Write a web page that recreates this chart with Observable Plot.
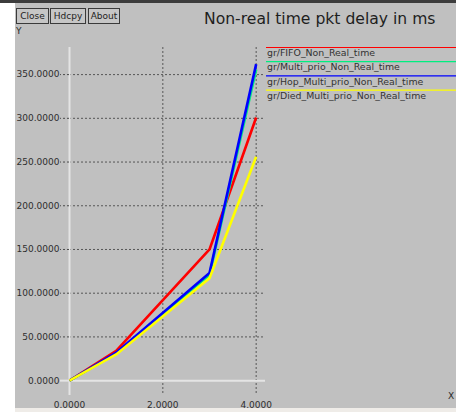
<!DOCTYPE html>
<html>
<head>
<meta charset="utf-8">
<script src="https://cdn.jsdelivr.net/npm/d3@7"></script>
<script src="https://cdn.jsdelivr.net/npm/@observablehq/plot@0.6"></script>
<style>
  body { margin: 0; background: #fff; font-family: "DejaVu Sans", sans-serif; }
  #win { position: relative; width: 456px; height: 412px; overflow: hidden; background: #fff; }
  #topbar { position: absolute; left: 0; top: 0; width: 456px; height: 3px; background: #3c3c3c; }
  #panel { position: absolute; left: 15px; top: 3px; width: 441px; height: 405px; background: #c0c0c0; }
  #bottom { position: absolute; left: 15px; top: 408px; width: 441px; height: 4px; background: #efece8; }
  .btn { position: absolute; top: 8px; height: 14px; border: 1px solid #3a3a3a; background: #c6c6c6;
         font-size: 9px; line-height: 14px; text-align: center; color: #222; box-sizing: content-box; }
  #title { position: absolute; left: 204px; top: 10px; font-size: 15.6px; color: #1e1e1e; white-space: nowrap; }
  .lbl { position: absolute; font-size: 9px; color: #2a2a2a; }
  #chart { position: absolute; left: 0; top: 0; }
  #legend { position: absolute; left: 266px; top: 40px; }
</style>
</head>
<body>
<div id="win">
  <div id="topbar"></div>
  <div id="panel"></div>
  <div id="bottom"></div>
  <div class="btn" style="left:16px;width:31px;">Close</div>
  <div class="btn" style="left:50px;width:34px;">Hdcpy</div>
  <div class="btn" style="left:88px;width:30px;">About</div>
  <div id="title">Non-real time pkt delay in ms</div>
  <div class="lbl" style="left:16px;top:26px;">Y</div>
  <div class="lbl" style="left:448px;top:391px;">X</div>
  <div id="chart"></div>
  <div id="legend"></div>
</div>
<script>
// Packet delay (ms) per load step for the four schedulers
const xs = [0, 1, 3, 4];
const seriesNames = [
  "gr/FIFO_Non_Real_time",
  "gr/Multi_prio_Non_Real_time",
  "gr/Hop_Multi_prio_Non_Real_time",
  "gr/Died_Multi_prio_Non_Real_time"
];
const fifo = [0, 34, 150, 301];
const multiPrio = [0, 31, 121, 356];
const hopMultiPrio = [0, 32, 123, 362];
const diedMultiPrio = [0, 30, 117, 256];
const seriesColors = ["#ff0000", "#00ee80", "#0000ff", "#ffff00"];

const yTicks = [50, 100, 150, 200, 250, 300, 350];
const xTicks = [0, 2, 4];

const seriesValues = [fifo, multiPrio, hopMultiPrio, diedMultiPrio];
const rows = seriesNames.flatMap((name, i) =>
  xs.map((x, j) => ({series: name, x, y: seriesValues[i][j]}))
);

const fmt = d => d.toFixed(4);

const chart = Plot.plot({
  width: 456,
  height: 412,
  marginLeft: 69,
  marginRight: 191,
  marginTop: 47,
  marginBottom: 17,
  style: {background: "transparent", fontFamily: "DejaVu Sans, sans-serif", fontSize: "9px", color: "#2e2e2e"},
  x: {domain: [0, 4.2]},
  y: {domain: [-17, 381]},
  color: {domain: seriesNames, range: seriesColors},
  marks: [
    Plot.gridY(yTicks, {stroke: "#4a4a4a", strokeOpacity: 0.9, strokeDasharray: "2,2"}),
    Plot.gridX([2, 4], {stroke: "#4a4a4a", strokeOpacity: 0.9, strokeDasharray: "2,2"}),
    Plot.ruleX([0], {stroke: "#e4e4e4", strokeWidth: 2}),
    Plot.ruleY([0], {stroke: "#e4e4e4", strokeWidth: 2}),
    Plot.axisY(yTicks, {tickSize: 9, tickPadding: 1, tickFormat: fmt, stroke: "#4a4a4a",
      strokeDasharray: "2,2", color: "#2e2e2e", label: null}),
    Plot.axisY([0], {tickSize: 9, tickPadding: 1, tickFormat: fmt, stroke: "#e4e4e4",
      strokeWidth: 2, color: "#2e2e2e", label: null}),
    Plot.axisX(xTicks, {tickSize: 0, tickPadding: 6, tickFormat: fmt, color: "#2e2e2e", label: null}),
    Plot.line(rows, {x: "x", y: "y", z: "series", stroke: "series", strokeWidth: 2.6,
      strokeLinejoin: "miter", strokeLinecap: "butt"})
  ]
});
document.getElementById("chart").appendChild(chart);

// Series key at the upper right: a coloured rule over each name
const key = d3.select("#legend").append("svg")
  .attr("width", 190).attr("height", 64)
  .style("display", "block");
const item = key.selectAll("g").data(seriesNames).join("g")
  .attr("transform", (d, i) => `translate(0,${7.5 + i * 14.2})`);
item.append("line")
  .attr("x1", 0).attr("x2", 190).attr("y1", 0).attr("y2", 0)
  .attr("stroke", (d, i) => seriesColors[i])
  .attr("stroke-width", 1.2);
item.append("text")
  .attr("x", 1).attr("y", 8.6)
  .attr("font-family", "DejaVu Sans, sans-serif")
  .attr("font-size", 9.4)
  .attr("fill", "#333")
  .text(d => d);
</script>
</body>
</html>
